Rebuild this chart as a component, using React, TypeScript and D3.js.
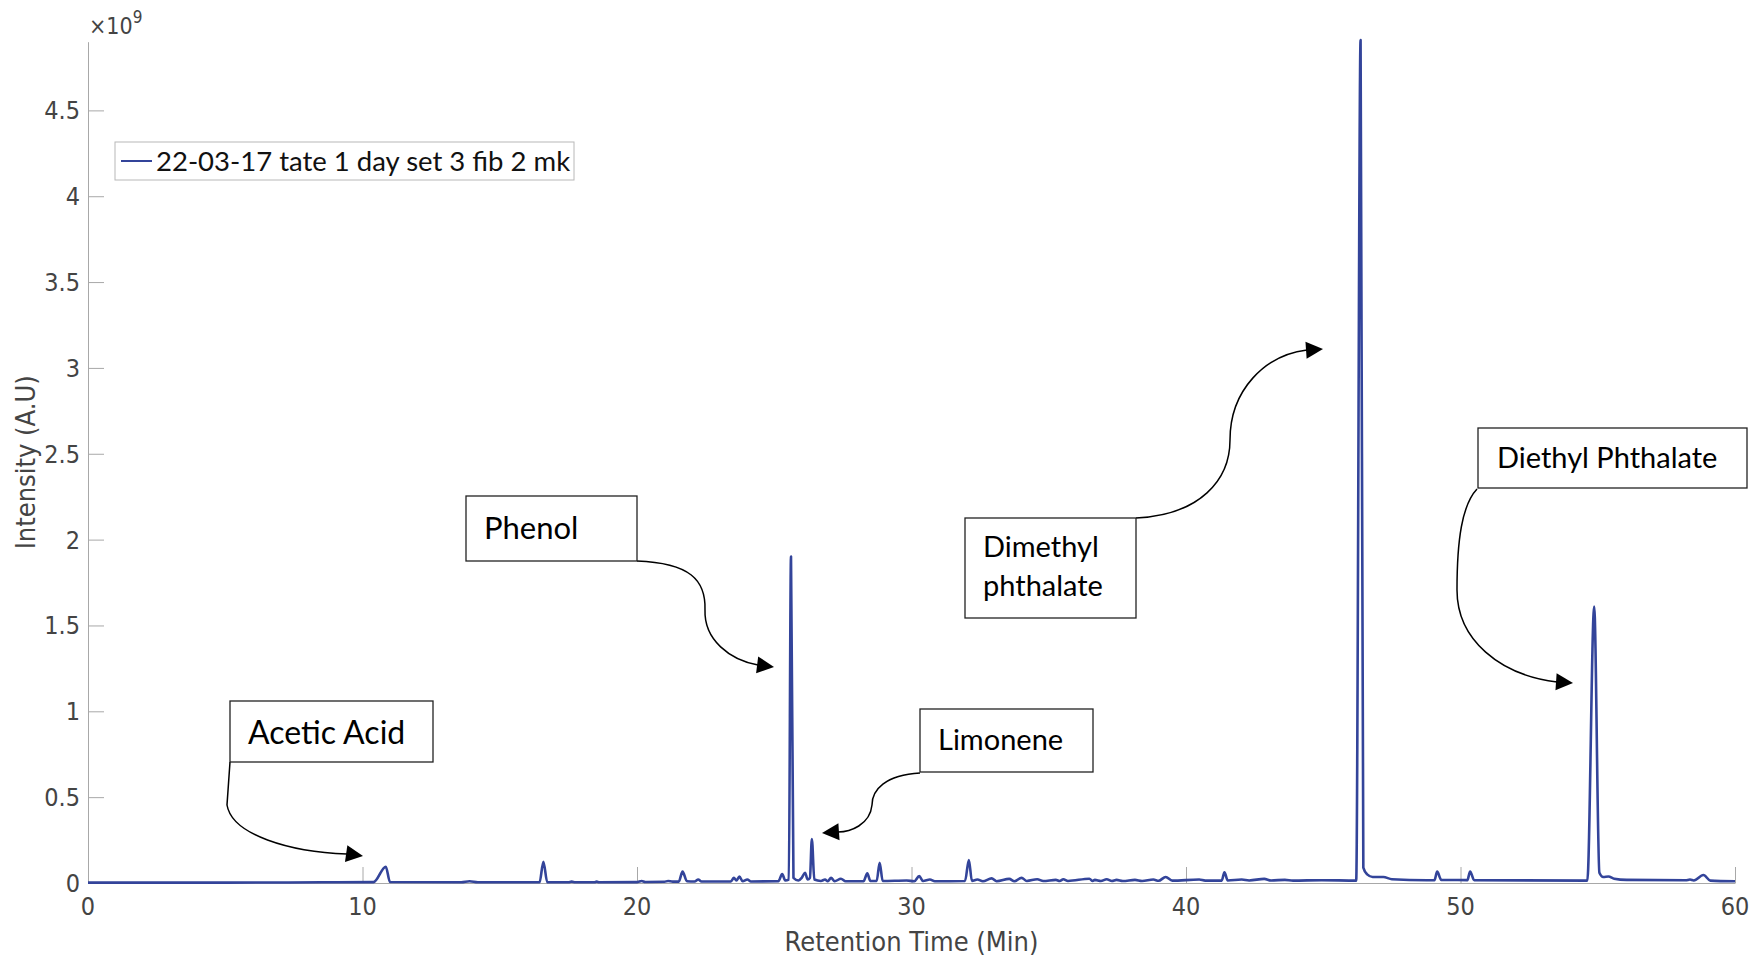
import React, { useEffect, useRef } from 'react';
import * as d3 from 'd3';

// retention time (min) and intensity (x1e9 A.U)
const rtMin = [
  0, 5, 8.5, 10.4, 10.85, 11.0, 13.6, 13.9, 14.2, 16.45, 16.59, 16.73,
  17.5, 17.62, 17.75, 18.45, 18.53, 18.62, 20.0, 20.17, 20.3, 21.0, 21.13, 21.3,
  21.52, 21.66, 21.82, 22.1, 22.23, 22.35, 23.42, 23.53, 23.62, 23.73, 23.85, 24.02,
  24.15, 25.15, 25.29, 25.4, 25.53, 25.61, 25.7, 25.88, 26.0, 26.12, 26.22, 26.3,
  26.37, 26.46, 26.7, 26.85, 26.95, 27.07, 27.2, 27.43, 27.6, 28.25, 28.39, 28.5,
  28.73, 28.84, 28.95, 29.82, 30.1, 30.28, 30.42, 30.67, 30.85, 31.95, 32.09, 32.2,
  32.4, 32.6, 32.92, 33.1, 33.56, 33.75, 34.01, 34.2, 34.58, 34.8, 35.26, 35.4,
  35.53, 35.7, 36.48, 36.6, 36.68, 36.9, 37.11, 37.3, 37.47, 37.7, 38.14, 38.4,
  38.81, 39.0, 39.26, 39.5, 40.48, 40.7, 41.3, 41.4, 41.52, 42.03, 42.3, 42.85,
  43.1, 43.6, 43.9, 44.94, 46.2, 46.36, 46.46, 46.6, 46.8, 47.19, 47.5, 48.77,
  49.05, 49.15, 49.3, 50.25, 50.35, 50.5, 54.62, 54.87, 55.06, 55.2, 55.39, 55.6,
  56.05, 58.2, 58.36, 58.5, 58.85, 59.1, 60
];
const intensity = [
  0.002, 0.002, 0.004, 0.005, 0.095, 0.006, 0.004, 0.01, 0.004, 0.004, 0.124, 0.005,
  0.004, 0.008, 0.004, 0.004, 0.008, 0.004, 0.005, 0.012, 0.006, 0.007, 0.012, 0.008,
  0.008, 0.066, 0.01, 0.009, 0.02, 0.009, 0.009, 0.03, 0.015, 0.037, 0.01, 0.02,
  0.009, 0.01, 0.052, 0.015, 0.02, 1.902, 0.03, 0.015, 0.03, 0.06, 0.02, 0.03,
  0.256, 0.02, 0.012, 0.02, 0.01, 0.03, 0.01, 0.025, 0.01, 0.01, 0.056, 0.012,
  0.012, 0.118, 0.012, 0.015, 0.01, 0.04, 0.012, 0.02, 0.01, 0.012, 0.134, 0.012,
  0.02, 0.01, 0.027, 0.01, 0.024, 0.01, 0.03, 0.012, 0.022, 0.012, 0.018, 0.012,
  0.022, 0.012, 0.025, 0.012, 0.018, 0.012, 0.022, 0.012, 0.018, 0.012, 0.018, 0.012,
  0.02, 0.013, 0.035, 0.014, 0.02, 0.014, 0.014, 0.062, 0.015, 0.02, 0.015, 0.024,
  0.015, 0.018, 0.014, 0.016, 0.014, 4.909, 0.09, 0.05, 0.035, 0.035, 0.022, 0.016,
  0.016, 0.066, 0.018, 0.017, 0.066, 0.016, 0.014, 1.61, 0.06, 0.035, 0.038, 0.025,
  0.018, 0.016, 0.02, 0.015, 0.047, 0.014, 0.01
];

const xTicks = [0, 10, 20, 30, 40, 50, 60];
const yTicks = [0, 0.5, 1, 1.5, 2, 2.5, 3, 3.5, 4, 4.5];
const seriesName = '22-03-17 tate 1 day set 3 fib 2 mk';

// compound labels with their arrows (page pixels)
const callouts = [
  { lines: ['Acetic Acid'], box: [230, 701, 203, 61], tx: 248, ty: [744], size: 32,
    path: 'M230,762 L227,805 C232,835 290,852 347,854', tip: [363, 856], angle: 8 },
  { lines: ['Phenol'], box: [466, 496, 171, 65], tx: 484, ty: [539], size: 31,
    path: 'M637,561 C690,563 706,580 705,610 C704,640 730,660 758,665', tip: [774, 667], angle: 7 },
  { lines: ['Limonene'], box: [920, 709, 173, 63], tx: 938, ty: [750], size: 29,
    path: 'M920,773 C885,775 872,790 872,805 C870,825 850,832 838,832', tip: [822, 833], angle: 176 },
  { lines: ['Dimethyl', 'phthalate'], box: [965, 518, 171, 100], tx: 983, ty: [557, 596], size: 29,
    path: 'M1136,518 C1200,515 1230,480 1230,440 C1230,390 1265,355 1307,350', tip: [1323, 349], angle: -4 },
  { lines: ['Diethyl Phthalate'], box: [1478, 428, 269, 60], tx: 1497, ty: [468], size: 29,
    path: 'M1477,489 C1462,505 1457,540 1457,590 C1457,640 1500,675 1557,682', tip: [1573, 683], angle: 4 },
];

const W = 1753;
const H = 962;
const labelFont = '"Lato", "Noto Sans", sans-serif';
const axisFont = '"Liberation Sans Narrow", "DejaVu Sans Condensed", "Lato", sans-serif';

const App = () => {
  const svgRef = useRef(null);

  useEffect(() => {
    document.body.style.margin = '0';
    const svg = d3.select(svgRef.current);
    svg.selectAll('*').remove();

    const x = d3.scaleLinear().domain([0, 60]).range([88, 1735]);
    const y = d3.scaleLinear().domain([0, 4.9]).range([883, 41.7]);

    svg.append('rect').attr('width', W).attr('height', H).attr('fill', 'white');

    // axes (MATLAB style: inward ticks, no box)
    const axisColor = '#a8a8a8';
    const textColor = '#444';

    const xAxis = svg.append('g').attr('transform', `translate(0,${y(0)})`)
      .call(d3.axisTop(x).tickValues(xTicks).tickSize(16).tickSizeOuter(0).tickFormat(() => ''));
    xAxis.selectAll('.domain, .tick line').attr('stroke', axisColor);

    svg.append('g').selectAll('text').data(xTicks).enter().append('text')
      .attr('x', d => x(d)).attr('y', 915)
      .attr('text-anchor', 'middle')
      .attr('font-family', axisFont).attr('font-size', 25).attr('fill', textColor)
      .text(d => String(d));

    const yAxis = svg.append('g').attr('transform', `translate(${x(0)},0)`)
      .call(d3.axisRight(y).tickValues(yTicks).tickSize(16).tickSizeOuter(0).tickFormat(() => ''));
    yAxis.selectAll('.domain, .tick line').attr('stroke', axisColor);

    svg.append('g').selectAll('text').data(yTicks).enter().append('text')
      .attr('x', 80).attr('y', d => y(d) + 9)
      .attr('text-anchor', 'end')
      .attr('font-family', axisFont).attr('font-size', 25).attr('fill', textColor)
      .text(d => String(d));

    // exponent
    const exp = svg.append('text').attr('x', 89).attr('y', 34)
      .attr('font-family', axisFont).attr('font-size', 23).attr('fill', textColor);
    exp.append('tspan').text('\u00d710');
    exp.append('tspan').attr('dy', -11).attr('font-size', 17).text('9');

    // axis titles
    svg.append('text')
      .attr('x', (x(0) + x(60)) / 2).attr('y', 951)
      .attr('text-anchor', 'middle')
      .attr('font-family', axisFont).attr('font-size', 27).attr('fill', textColor)
      .text('Retention Time (Min)');

    svg.append('text')
      .attr('transform', `translate(35,${(y(0) + y(4.9)) / 2}) rotate(-90)`)
      .attr('text-anchor', 'middle')
      .attr('font-family', axisFont).attr('font-size', 27).attr('fill', textColor)
      .text('Intensity (A.U)');

    // trace
    const pts = rtMin.map((t, i) => [t, intensity[i]]);
    const line = d3.line()
      .x(d => x(d[0]))
      .y(d => y(d[1]))
      .curve(d3.curveMonotoneX);

    svg.append('path')
      .datum(pts)
      .attr('fill', 'none')
      .attr('stroke', '#33449a')
      .attr('stroke-width', 2.6)
      .attr('stroke-linejoin', 'round')
      .attr('d', line);

    // legend
    const lg = svg.append('g');
    lg.append('rect').attr('x', 115).attr('y', 142).attr('width', 459).attr('height', 38)
      .attr('fill', 'white').attr('stroke', '#b8b8b8').attr('stroke-width', 1);
    lg.append('line').attr('x1', 121).attr('x2', 152).attr('y1', 161).attr('y2', 161)
      .attr('stroke', '#33449a').attr('stroke-width', 2);
    lg.append('text').attr('x', 156).attr('y', 171)
      .attr('font-family', labelFont).attr('font-size', 27.5).attr('fill', '#111')
      .text(seriesName);

    // callouts
    callouts.forEach(c => {
      const g = svg.append('g');
      g.append('path').attr('d', c.path).attr('fill', 'none')
        .attr('stroke', '#000').attr('stroke-width', 1.5);
      const a = (c.angle * Math.PI) / 180;
      const L = 17;
      const hw = 8.5;
      const [tx, ty] = c.tip;
      const bx = tx - L * Math.cos(a);
      const by = ty - L * Math.sin(a);
      const head = [
        [tx, ty],
        [bx - hw * Math.sin(a), by + hw * Math.cos(a)],
        [bx + hw * Math.sin(a), by - hw * Math.cos(a)],
      ];
      g.append('polygon').attr('points', head.map(p => p.join(',')).join(' ')).attr('fill', '#000');
      const [rx, ry, rw, rh] = c.box;
      g.append('rect').attr('x', rx).attr('y', ry).attr('width', rw).attr('height', rh)
        .attr('fill', 'white').attr('stroke', '#222').attr('stroke-width', 1.3);
      c.lines.forEach((s, i) => {
        g.append('text').attr('x', c.tx).attr('y', c.ty[i])
          .attr('font-family', labelFont).attr('font-size', c.size).attr('fill', '#000')
          .text(s);
      });
    });
  }, []);

  return (
    <svg
      ref={svgRef}
      width={W}
      height={H}
      style={{ position: 'absolute', left: 0, top: 0, display: 'block' }}
    />
  );
};

export default App;
